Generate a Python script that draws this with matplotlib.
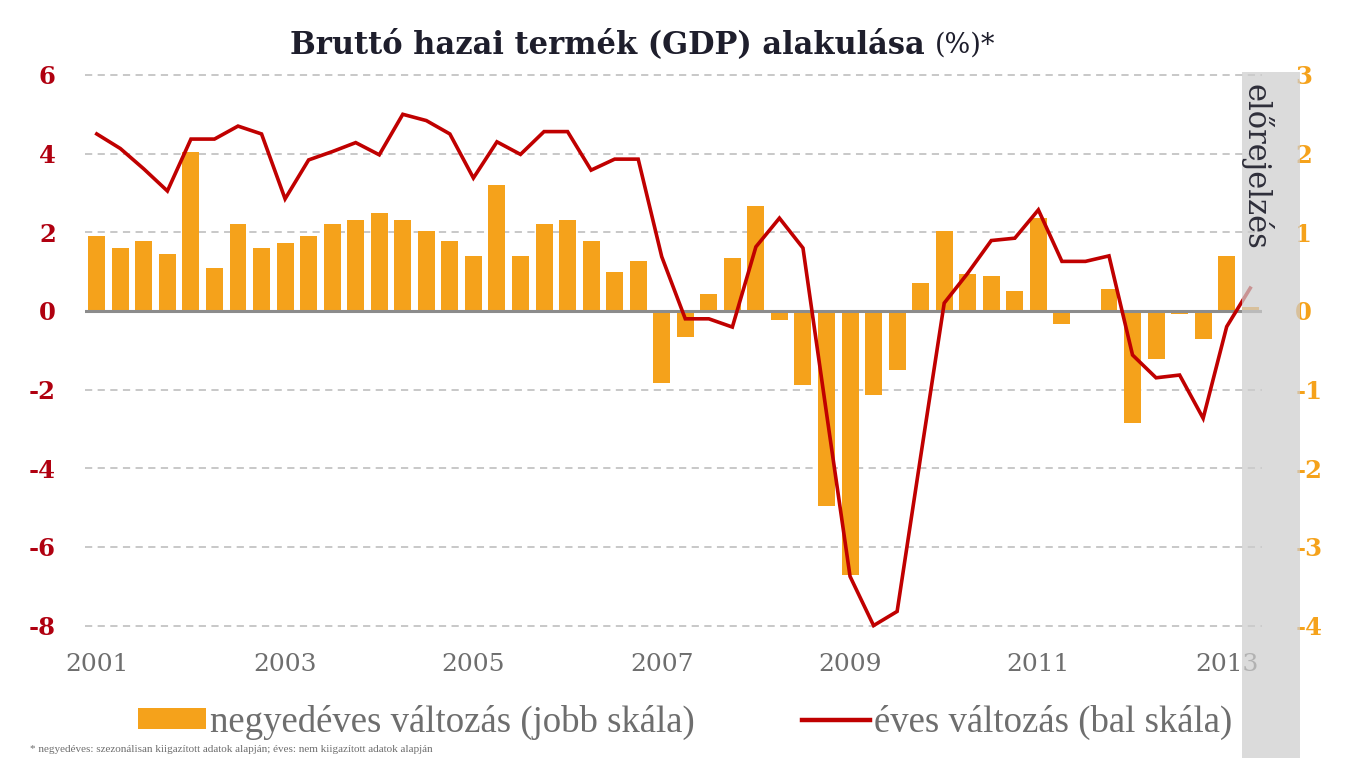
import numpy as np
import matplotlib
matplotlib.use("Agg")
import matplotlib.pyplot as plt
from matplotlib.patches import Rectangle, Patch
from matplotlib.lines import Line2D

plt.rcParams['axes.unicode_minus'] = False

# negyedéves változás (jobb skála), 2001Q1 - 2013Q2 (utolsó: előrejelzés)
negyedeves = [0.95, 0.80, 0.89, 0.73, 2.02, 0.54, 1.11, 0.80, 0.86, 0.95,
              1.11, 1.15, 1.24, 1.15, 1.02, 0.89, 0.70, 1.60, 0.70, 1.11,
              1.15, 0.89, 0.50, 0.63, -0.91, -0.33, 0.22, 0.67, 1.34, -0.11,
              -0.94, -2.48, -3.36, -1.07, -0.75, 0.35, 1.02, 0.47, 0.44, 0.25,
              1.18, -0.17, 0.00, 0.28, -1.42, -0.61, -0.04, -0.36, 0.70, 0.05]
# éves változás (bal skála)
eves = [4.50, 4.13, 3.61, 3.05, 4.37, 4.37, 4.70, 4.50, 2.85, 3.84,
        4.05, 4.28, 3.97, 5.00, 4.84, 4.50, 3.38, 4.30, 3.98, 4.56,
        4.56, 3.58, 3.86, 3.86, 1.38, -0.20, -0.20, -0.41, 1.63, 2.36,
        1.60, -2.60, -6.75, -8.00, -7.64, -3.70, 0.20, 0.96, 1.79, 1.85,
        2.57, 1.26, 1.26, 1.40, -1.12, -1.70, -1.63, -2.73, -0.40, 0.58]
evek = ['2001', '2003', '2005', '2007', '2009', '2011', '2013']
bal_tick = [-8, -6, -4, -2, 0, 2, 4, 6]
jobb_tick = [-4, -3, -2, -1, 0, 1, 2, 3]

W, H = 1347, 758
fig = plt.figure(figsize=(W / 100, H / 100), dpi=100)
ax = fig.add_axes([85 / W, 1 - 629.5 / H, (1262 - 85) / W, (629.5 - 73) / H])
ax2 = ax.twinx()

x = np.arange(len(negyedeves))
narancs = '#F5A21B'
piros = '#C00000'

ax2.bar(x, negyedeves, width=0.72, color=narancs, zorder=2)
ax2.axhline(0, color='#8c8c8c', lw=2.2, zorder=3)
ax2.set_ylim(-4.05, 3.025)
ax2.set_yticks(jobb_tick)
ax2.grid(axis='y', color='#c4c4c4', linestyle=(0, (4, 3)), lw=1.3)
ax2.set_axisbelow(True)

ax.plot(x, eves, color=piros, lw=2.6, solid_joinstyle='miter')
ax.set_ylim(-8.1, 6.05)
ax.set_yticks(bal_tick)
ax.set_xlim(-0.5, 49.5)
ax.set_xticks(np.arange(0, 49, 8))
ax.set_xticklabels(evek)
ax.set_zorder(ax2.get_zorder() + 1)
ax.patch.set_visible(False)

for a in (ax, ax2):
    for s in a.spines.values():
        s.set_visible(False)

ax.tick_params(axis='y', length=0, pad=21, labelcolor='#B00010')
ax.tick_params(axis='x', length=0, pad=17, labelcolor='#6e6e6e')
ax2.tick_params(axis='y', length=0, pad=24, labelcolor='#F5A21B')
for t in ax.get_yticklabels() + ax2.get_yticklabels():
    t.set_fontfamily('DejaVu Serif')
    t.set_fontweight('bold')
    t.set_fontsize(17.5)
for t in ax.get_xticklabels():
    t.set_fontfamily('DejaVu Serif')
    t.set_fontsize(18)

# cím
fig.text(925 / W, 1 - 53 / H, 'Bruttó hazai termék (GDP) alakulása', ha='right',
         va='baseline', fontsize=22, fontweight='bold', family='DejaVu Serif',
         color='#1e1e2c')
fig.text(935 / W, 1 - 53 / H, '(%)*', ha='left', va='baseline', fontsize=19.5,
         family='DejaVu Serif', color='#1e1e2c')

# jelmagyarázat
handles = [Patch(facecolor=narancs, edgecolor='none'),
           Line2D([0], [0], color=piros, lw=3.2)]
leg = fig.legend(handles, ['negyedéves változás (jobb skála)', 'éves változás (bal skála)'],
                 ncol=2, loc='center', bbox_to_anchor=(685 / W, 1 - 722 / H),
                 frameon=False, handlelength=1.85, handleheight=0.5,
                 handletextpad=0.12, columnspacing=2.9,
                 prop={'family': 'Liberation Serif', 'size': 26.5})
for t in leg.get_texts():
    t.set_color('#6e6e6e')

fig.text(30 / W, 1 - 745 / H,
         '* negyedéves: szezonálisan kiigazított adatok alapján; éves: nem kiigazított adatok alapján',
         ha='left', va='top', fontsize=8, family='Liberation Serif', color='#6e6e6e')

# előrejelzés sáv
fig.add_artist(Rectangle((1242 / W, 0), (1300 - 1242) / W, 1 - 72 / H,
                         transform=fig.transFigure, facecolor='#cdcdcd',
                         edgecolor='none', alpha=0.72, zorder=5))
fig.text(1256 / W, 1 - 84 / H, 'előrejelzés', rotation=270, ha='center', va='top',
         fontsize=22, family='DejaVu Serif', color='#2e2e3a', zorder=6)

fig.savefig('out.png', dpi=100)
